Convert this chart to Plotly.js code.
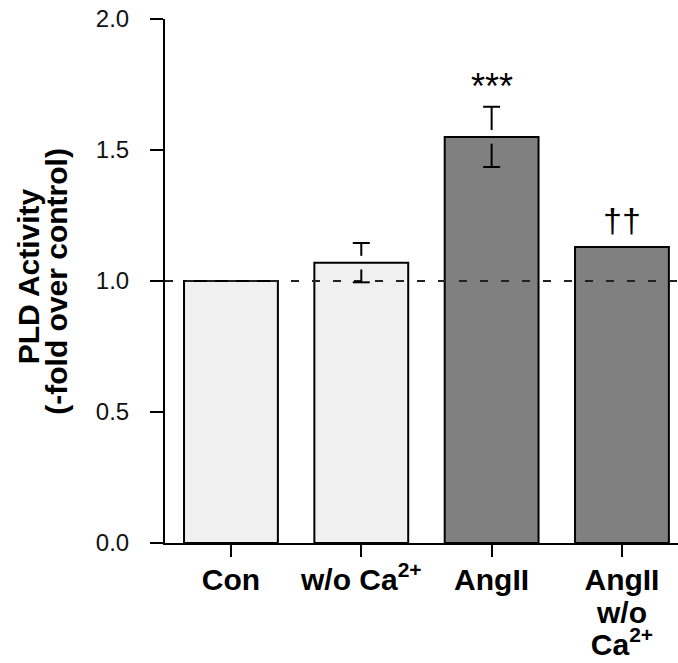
<!DOCTYPE html>
<html>
<head>
<meta charset="utf-8">
<script src="https://cdn.plot.ly/plotly-3.0.1.min.js"></script>
<style>html,body{margin:0;padding:0;background:#fff;}#chart{width:678px;height:663px;}</style>
</head>
<body>
<div id="chart"></div>
<script>
// ---- data ----
const categories = ['Con', 'w/o Ca<sup>2+</sup>', 'AngII', 'AngII<br>w/o<br>Ca<sup>2+</sup>'];
const values = [1.0, 1.07, 1.55, 1.13];
const errors = [0, 0.075, 0.115, 0];
const barColors = ['#f0f0f0', '#f0f0f0', '#808080', '#808080'];
const significance = ['', '', '***', '\u2020\u2020'];
const referenceLevel = 1.0;
const yTicks = [0, 0.5, 1.0, 1.5, 2.0];

const FONT = '"Liberation Sans", Arial, Helvetica, sans-serif';
const xIdx = categories.map((c, i) => i);

// tight multi-line labels: big glyphs, line spacing from a smaller base font
const bigLabel = c => c.split('<br>')
  .map(l => '<span style="font-size:30px"><b>' + l + '</b></span>').join('<br>');

const trace = {
  type: 'bar',
  x: xIdx,
  y: values,
  width: 0.72,
  marker: {color: barColors, line: {color: '#000', width: 2}},
  hoverinfo: 'skip'
};

// split error bars (T above the bar top, inverted T below it)
const gap = 0.026;
const shapes = [{
  type: 'line', xref: 'paper', yref: 'y', x0: 0, x1: 1,
  y0: referenceLevel, y1: referenceLevel,
  line: {color: '#222', width: 2, dash: '8px,13px'}
}];
values.forEach((v, i) => {
  const e = errors[i];
  if (!e) return;
  const ln = {color: '#000', width: 2};
  shapes.push({type: 'line', xref: 'x', yref: 'y', x0: i, x1: i, y0: v + e, y1: v + gap, line: ln});
  shapes.push({type: 'line', xref: 'x', yref: 'y', xsizemode: 'pixel', xanchor: i, x0: -8.5, x1: 8.5, y0: v + e, y1: v + e, line: ln});
  shapes.push({type: 'line', xref: 'x', yref: 'y', x0: i, x1: i, y0: v - e, y1: v - gap, line: ln});
  shapes.push({type: 'line', xref: 'x', yref: 'y', xsizemode: 'pixel', xanchor: i, x0: -8.5, x1: 8.5, y0: v - e, y1: v - e, line: ln});
});

const annotations = [];
significance.forEach((s, i) => {
  if (!s) return;
  annotations.push({
    x: i, y: values[i] + errors[i], xref: 'x', yref: 'y',
    text: s, showarrow: false, xanchor: 'center', yanchor: 'bottom',
    yshift: s === '***' ? -2 : 6,
    font: {family: FONT, size: s === '***' ? 36 : 34, color: '#000'}
  });
});
annotations.push({
  xref: 'paper', yref: 'paper', x: -0.267, y: 0.509, xanchor: 'center', yanchor: 'middle',
  text: '<b>PLD Activity</b>', textangle: -90, showarrow: false,
  font: {family: FONT, size: 30, color: '#000'}
});
annotations.push({
  xref: 'paper', yref: 'paper', x: -0.213, y: 0.5, xanchor: 'center', yanchor: 'middle',
  text: '<b>(-fold over control)</b>', textangle: -90, showarrow: false,
  font: {family: FONT, size: 30, color: '#000'}
});

const layout = {
  width: 678, height: 663,
  margin: {l: 165, r: 0, t: 19, b: 120, pad: 0},
  paper_bgcolor: '#fff', plot_bgcolor: '#fff',
  showlegend: false,
  font: {family: FONT, color: '#000'},
  xaxis: {
    range: [-0.506, 3.43],
    tickmode: 'array', tickvals: xIdx, ticktext: categories.map(bigLabel),
    showline: true, linecolor: '#000', linewidth: 2,
    ticks: 'outside', ticklen: 12, tickwidth: 2, tickcolor: '#000',
    showgrid: false, zeroline: false,
    tickfont: {family: FONT, size: 25, color: '#000'},
    ticklabelstandoff: 3
  },
  yaxis: {
    range: [0, 2.0],
    tickmode: 'array', tickvals: yTicks, ticktext: yTicks.map(t => t.toFixed(1)),
    showline: true, linecolor: '#000', linewidth: 2,
    ticks: 'outside', ticklen: 13, tickwidth: 2, tickcolor: '#000',
    showgrid: false, zeroline: false,
    tickfont: {family: FONT, size: 24, color: '#111'},
    ticklabelstandoff: 16
  },
  shapes: shapes,
  annotations: annotations
};

Plotly.newPlot('chart', [trace], layout, {displayModeBar: false, staticPlot: true});
</script>
</body>
</html>
